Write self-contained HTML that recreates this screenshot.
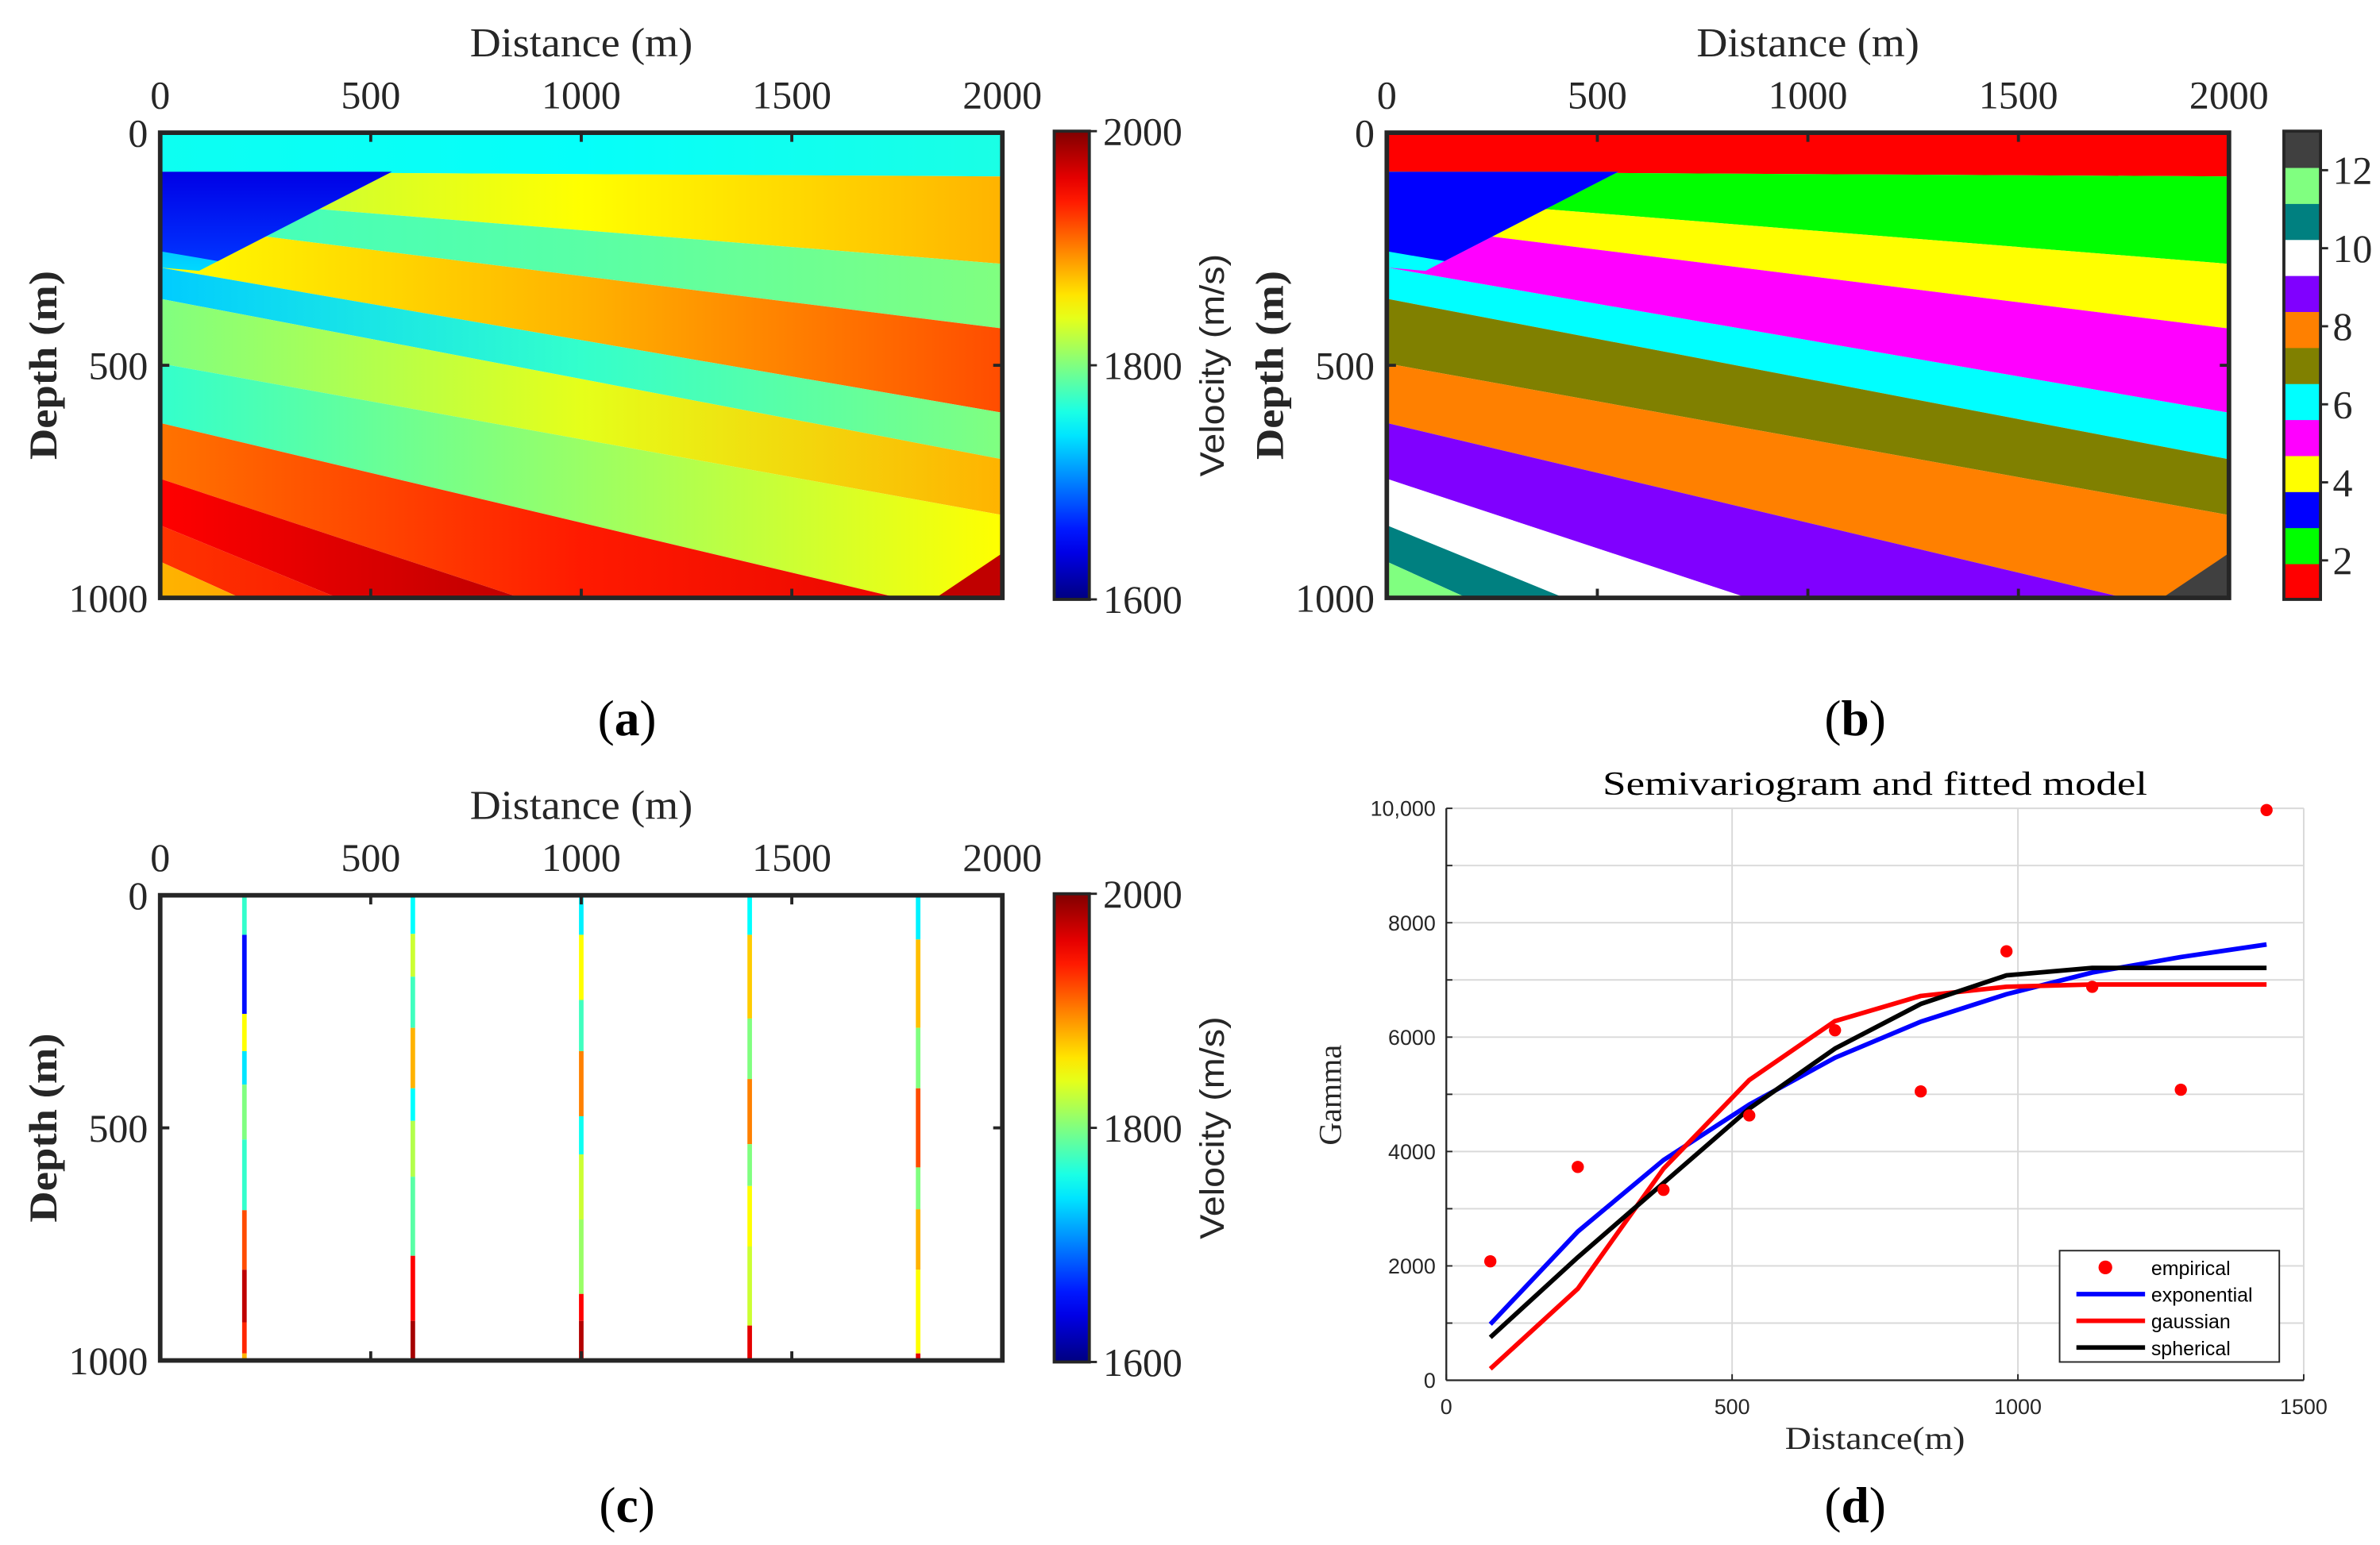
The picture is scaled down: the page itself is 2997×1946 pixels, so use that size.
<!DOCTYPE html>
<html><head><meta charset="utf-8"><style>
html,body{margin:0;padding:0;background:#fff;}
svg{display:block;}
</style></head><body>
<svg id="fig" xmlns="http://www.w3.org/2000/svg" width="2997" height="1946" viewBox="0 0 1560 1013" preserveAspectRatio="none">
<defs id="defs"></defs>
<rect x="0" y="0" width="1560" height="1013" fill="#fff"/>
</svg>
<script>
// ---------- DATA ----------
const distTicks = [0, 500, 1000, 1500, 2000];
const depthTicks = [0, 500, 1000];
const layerBoundLeft = [0, 84, 137, 195, 290, 357, 496, 624, 744, 844, 922];
const layerBoundRight = [0, 94, 282, 421, 602, 702, 822, 1053, 1342, 1584, 1742];
const layerClassColors = ['#ff0000','#00ff00','#ffff00','#ff00ff','#00ffff','#808000','#ff8000','#8000ff','#ffffff','#008080','#80ff80'];
const layerVelLeft  = [1755, 1820, 1775, 1850, 1730, 1800, 1770, 1905, 1950, 1930, 1880];
const layerVelMid   = [1752, 1850, 1785, 1880, 1770, 1840, 1810, 1940, 1980, 1955, 1900];
const layerVelRight = [1760, 1880, 1800, 1920, 1800, 1880, 1850, 1960, 1990, 1975, 1935];
const classTicks = [2, 4, 6, 8, 10, 12];
const classColors = ['#ff0000','#00ff00','#0000ff','#ffff00','#ff00ff','#00ffff','#808000','#ff8000','#8000ff','#ffffff','#008080','#80ff80','#404040'];
const velTicks = [1600, 1800, 2000];
const wellX = [200, 600, 1000, 1400, 1800];
const wellBreaks = [
  [0,85,255,335,407,525,677,805,918,985,1000],
  [0,83,175,285,415,485,605,775,915,1000],
  [0,85,225,335,475,557,697,857,915,1000],
  [0,85,265,395,535,625,755,925,1000],
  [0,95,285,415,585,675,805,985,1000]
];
const wellVel = [
  [1770,1655,1850,1740,1800,1770,1920,1975,1935,1880],
  [1750,1830,1775,1880,1750,1820,1785,1950,1985],
  [1745,1850,1775,1900,1755,1830,1810,1950,1980],
  [1750,1870,1800,1900,1800,1850,1830,1960],
  [1745,1875,1800,1920,1800,1880,1850,1960]
];
const lagDist = [77, 230, 380, 530, 680, 830, 980, 1130, 1285, 1435];
const empirical = [2080, 3730, 3330, 4630, 6120, 5050, 7500, 6880, 5080, 9970];
const expModel = [980, 2600, 3850, 4820, 5640, 6270, 6750, 7130, 7400, 7620];
const gaussModel = [200, 1600, 3700, 5250, 6280, 6720, 6880, 6920, 6920, 6920];
const sphModel = [750, 2150, 3450, 4750, 5800, 6580, 7080, 7210, 7210, 7210];
const gammaTicks = [0, 2000, 4000, 6000, 8000, 10000];
const gammaTickLabels = ['0','2000','4000','6000','8000','10,000'];
const lagTicks = [0, 500, 1000, 1500];

// ---------- HELPERS ----------
const NS = 'http://www.w3.org/2000/svg';
const svg = document.getElementById('fig');
const defs = document.getElementById('defs');
function mk(tag, attrs, parent) {
  const e = document.createElementNS(NS, tag);
  for (const k in attrs) e.setAttribute(k, attrs[k]);
  (parent || svg).appendChild(e);
  return e;
}
function txt(str, attrs, parent) { const t = mk('text', attrs, parent); t.textContent = str; return t; }
function jet(v, lo, hi) {
  let t = Math.max(0, Math.min(1, (v - lo) / (hi - lo)));
  const f = (a) => Math.max(0, Math.min(1, a));
  const r = f(Math.min(4*t - 1.5, -4*t + 4.5));
  const g = f(Math.min(4*t - 0.5, -4*t + 3.5));
  const b = f(Math.min(4*t + 0.5, -4*t + 2.5));
  return 'rgb(' + Math.round(r*255) + ',' + Math.round(g*255) + ',' + Math.round(b*255) + ')';
}
const SERIF = '"Liberation Serif", serif';
const SANS = '"Liberation Sans", sans-serif';
const INK = '#262626';

const jg = mk('linearGradient', {id:'jetbar', x1:'0', y1:'1', x2:'0', y2:'0'}, defs);
for (let i = 0; i <= 20; i++) mk('stop', {offset: i/20, 'stop-color': jet(1600 + i*20, 1600, 2000)}, jg);

function heatPanel(px0, px1, py0, py1, mode, name) {
  const g = mk('g', {});
  
  
  const sx = d => px0 + (d / 2000) * (px1 - px0);
  const sy = z => py0 + (z / 1000) * (py1 - py0);
  const cid = 'clip-' + name;
  const cp = mk('clipPath', {id: cid}, defs);
  mk('rect', {x: px0, y: py0, width: px1 - px0, height: py1 - py0}, cp);
  const cg = mk('g', {'clip-path': 'url(#' + cid + ')'}, g);
  for (let i = 0; i < layerBoundLeft.length; i++) {
    const tl = layerBoundLeft[i], tr = layerBoundRight[i];
    const bl = i + 1 < layerBoundLeft.length ? layerBoundLeft[i+1] : 3000;
    const br = i + 1 < layerBoundRight.length ? layerBoundRight[i+1] : 3000;
    let fill;
    if (mode === 'class') fill = layerClassColors[i];
    else {
      const gid = name + '-lg' + i;
      const lg = mk('linearGradient', {id: gid, gradientUnits: 'userSpaceOnUse', x1: px0, y1: 0, x2: px1, y2: 0}, defs);
      mk('stop', {offset: 0, 'stop-color': jet(layerVelLeft[i], 1600, 2000)}, lg);
      mk('stop', {offset: 0.5, 'stop-color': jet(layerVelMid[i], 1600, 2000)}, lg);
      mk('stop', {offset: 1, 'stop-color': jet(layerVelRight[i], 1600, 2000)}, lg);
      fill = 'url(#' + gid + ')';
    }
    const p = mk('polygon', {points: [sx(0)+','+sy(tl), sx(2000)+','+sy(tr), sx(2000)+','+sy(br), sx(0)+','+sy(bl)].join(' '), fill: fill}, cg);
    
    
  }
  const wedgeOuter = [[0,84],[550,84],[92,297],[0,290]];
  const wedgeInner = [[0,84],[550,84],[137,276],[0,255]];
  let fo, fi;
  if (mode === 'class') { fo = '#00ffff'; fi = '#0000ff'; }
  else {
    const gid = name + '-wg';
    const lg = mk('linearGradient', {id: gid, gradientUnits: 'userSpaceOnUse', x1: 0, y1: sy(84), x2: 0, y2: sy(297)}, defs);
    mk('stop', {offset: 0, 'stop-color': jet(1700, 1600, 2000)}, lg);
    mk('stop', {offset: 1, 'stop-color': jet(1735, 1600, 2000)}, lg);
    fo = 'url(#' + gid + ')';
    const gid2 = name + '-wb';
    const lg2 = mk('linearGradient', {id: gid2, gradientUnits: 'userSpaceOnUse', x1: 0, y1: sy(84), x2: 0, y2: sy(276)}, defs);
    mk('stop', {offset: 0, 'stop-color': jet(1640, 1600, 2000)}, lg2);
    mk('stop', {offset: 1, 'stop-color': jet(1670, 1600, 2000)}, lg2);
    fi = 'url(#' + gid2 + ')';
  }
  const w1 = mk('polygon', {points: wedgeOuter.map(q => sx(q[0]) + ',' + sy(q[1])).join(' '), fill: fo}, cg);
  
  
  const w2 = mk('polygon', {points: wedgeInner.map(q => sx(q[0]) + ',' + sy(q[1])).join(' '), fill: fi}, cg);
  
  
  const corner = [[1842,1000],[2000,1000],[2000,904]];
  const c = mk('polygon', {points: corner.map(q => sx(q[0]) + ',' + sy(q[1])).join(' '), fill: mode === 'class' ? '#404040' : '#c00000'}, cg);
  
  
  return {sx, sy, g};
}

function mapAxes(px0, px1, py0, py1, sx, sy, tag) {
  const g = mk('g', {});
  
  
  mk('rect', {x: px0, y: py0, width: px1 - px0, height: py1 - py0, fill: 'none', stroke: INK, 'stroke-width': 3}, g);
  distTicks.forEach(d => {
    mk('line', {x1: sx(d), y1: py0, x2: sx(d), y2: py0 + 6, stroke: INK, 'stroke-width': 2}, g);
    mk('line', {x1: sx(d), y1: py1, x2: sx(d), y2: py1 - 6, stroke: INK, 'stroke-width': 2}, g);
    const t = txt(String(d), {x: sx(d), y: py0 - 16, 'font-family': SERIF, 'font-size': 26, fill: INK, 'text-anchor': 'middle'}, g);
    
    
  });
  depthTicks.forEach(z => {
    mk('line', {x1: px0, y1: sy(z), x2: px0 + 6, y2: sy(z), stroke: INK, 'stroke-width': 2}, g);
    mk('line', {x1: px1, y1: sy(z), x2: px1 - 6, y2: sy(z), stroke: INK, 'stroke-width': 2}, g);
    const t = txt(String(z), {x: px0 - 8, y: sy(z) + 9, 'font-family': SERIF, 'font-size': 26, fill: INK, 'text-anchor': 'end'}, g);
    
    
  });
  const xt = txt('Distance (m)', {x: (px0 + px1) / 2, y: py0 - 50, 'font-family': SERIF, 'font-size': 27, fill: INK, 'text-anchor': 'middle', textLength: 146, lengthAdjust: 'spacingAndGlyphs'}, g);
  
  
  const yc = (py0 + py1) / 2;
  const yt = txt('Depth (m)', {x: 0, y: 0, transform: 'translate(' + (px0 - 68) + ',' + yc + ') rotate(-90)', 'font-family': SERIF, 'font-weight': 'bold', 'font-size': 26, fill: INK, 'text-anchor': 'middle', textLength: 124, lengthAdjust: 'spacingAndGlyphs'}, g);
  
  
}

function jetColorbar(cx0, cx1, cy0, cy1, tag) {
  const g = mk('g', {});
  
  
  mk('rect', {x: cx0, y: cy0, width: cx1 - cx0, height: cy1 - cy0, fill: 'url(#jetbar)', stroke: INK, 'stroke-width': 2}, g);
  velTicks.forEach(v => {
    const y = cy1 - (v - 1600) / 400 * (cy1 - cy0);
    mk('line', {x1: cx1, y1: y, x2: cx1 + 5, y2: y, stroke: INK, 'stroke-width': 1.5}, g);
    const t = txt(String(v), {x: cx1 + 9, y: y + 9, 'font-family': SERIF, 'font-size': 26, fill: INK}, g);
    
    
  });
  const lt = txt('Velocity (m/s)', {x: 0, y: 0, transform: 'translate(' + (cx1 + 88) + ',' + ((cy0 + cy1) / 2) + ') rotate(-90)', 'font-family': SANS, 'font-size': 22, fill: INK, 'text-anchor': 'middle', textLength: 146, lengthAdjust: 'spacingAndGlyphs'}, g);
  
  
}

function caption(letter, x, y) {
  const t = mk('text', {x: x, y: y, 'font-family': SERIF, 'font-size': 33, fill: '#000', 'text-anchor': 'middle'});
  
  
  const a = document.createElementNS(NS, 'tspan'); a.textContent = '('; t.appendChild(a);
  const b = document.createElementNS(NS, 'tspan'); b.setAttribute('font-weight', 'bold'); b.textContent = letter; t.appendChild(b);
  const c = document.createElementNS(NS, 'tspan'); c.textContent = ')'; t.appendChild(c);
}

// ---------- PANEL A ----------
{
  const P = heatPanel(105, 657, 87, 392, 'vel', 'panel-a-velocity-map');
  mapAxes(105, 657, 87, 392, P.sx, P.sy, 'panel-a');
  jetColorbar(691, 714, 86, 393, 'panel-a');
  caption('a', 411, 482);
}
// ---------- PANEL B ----------
{
  const P = heatPanel(909, 1461, 87, 392, 'class', 'panel-b-class-map');
  mapAxes(909, 1461, 87, 392, P.sx, P.sy, 'panel-b');
  const cx0 = 1497, cx1 = 1521, cy0 = 86, cy1 = 393;
  const g = mk('g', {});
  
  
  const n = classColors.length;
  const h = (cy1 - cy0) / n;
  classColors.forEach((col, i) => {
    const r = mk('rect', {x: cx0, y: cy1 - (i + 1) * h, width: cx1 - cx0, height: h + 0.5, fill: col}, g);
    
    
  });
  mk('rect', {x: cx0, y: cy0, width: cx1 - cx0, height: cy1 - cy0, fill: 'none', stroke: INK, 'stroke-width': 2}, g);
  const cy = v => cy1 - (v - 1) / 12 * (cy1 - cy0);
  classTicks.forEach(v => {
    mk('line', {x1: cx1, y1: cy(v), x2: cx1 + 5, y2: cy(v), stroke: INK, 'stroke-width': 1.5}, g);
    const t = txt(String(v), {x: cx1 + 8, y: cy(v) + 9, 'font-family': SERIF, 'font-size': 26, fill: INK}, g);
    
    
  });
  caption('b', 1216, 482);
}
// ---------- PANEL C ----------
{
  const px0 = 105, px1 = 657, py0 = 587, py1 = 892;
  const sx = d => px0 + (d / 2000) * (px1 - px0);
  const sy = z => py0 + (z / 1000) * (py1 - py0);
  const g = mk('g', {});
  
  
  wellX.forEach((wx, w) => {
    const br = wellBreaks[w];
    for (let k = 0; k < br.length - 1; k++) {
      const r = mk('rect', {x: sx(wx) - 1.5, y: sy(br[k]), width: 3, height: sy(br[k+1]) - sy(br[k]), fill: jet(wellVel[w][k], 1600, 2000)}, g);
      
      
    }
  });
  mapAxes(px0, px1, py0, py1, sx, sy, 'panel-c');
  jetColorbar(691, 714, 586, 893, 'panel-c');
  caption('c', 411, 998);
}
// ---------- PANEL D ----------
{
  const px0 = 948, px1 = 1510, py0 = 530, py1 = 905;
  const sx = d => px0 + d / 1500 * (px1 - px0);
  const sy = v => py1 - v / 10000 * (py1 - py0);
  const g = mk('g', {});
  
  
  for (let v = 1000; v <= 10000; v += 1000)
    mk('line', {x1: px0, y1: sy(v), x2: px1, y2: sy(v), stroke: '#d9d9d9', 'stroke-width': 1}, g);
  lagTicks.slice(1).forEach(d => mk('line', {x1: sx(d), y1: py0, x2: sx(d), y2: py1, stroke: '#d9d9d9', 'stroke-width': 1}, g));
  mk('line', {x1: px0, y1: py0, x2: px0, y2: py1, stroke: INK, 'stroke-width': 1.2}, g);
  mk('line', {x1: px0, y1: py1, x2: px1, y2: py1, stroke: INK, 'stroke-width': 1.2}, g);
  for (let v = 0; v <= 10000; v += 1000)
    mk('line', {x1: px0, y1: sy(v), x2: px0 + 4, y2: sy(v), stroke: INK, 'stroke-width': 1}, g);
  lagTicks.forEach(d => mk('line', {x1: sx(d), y1: py1, x2: sx(d), y2: py1 - 4, stroke: INK, 'stroke-width': 1}, g));
  gammaTicks.forEach((v, i) => {
    const t = txt(gammaTickLabels[i], {x: px0 - 7, y: sy(v) + 5, 'font-family': SANS, 'font-size': 14, fill: INK, 'text-anchor': 'end'}, g);
    
    
  });
  lagTicks.forEach(d => {
    const t = txt(String(d), {x: sx(d), y: py1 + 22, 'font-family': SANS, 'font-size': 14, fill: INK, 'text-anchor': 'middle'}, g);
    
    
  });
  const tt = txt('Semivariogram and fitted model', {x: (px0 + px1) / 2, y: 521, 'font-family': SERIF, 'font-size': 22, fill: '#000', 'text-anchor': 'middle', textLength: 357, lengthAdjust: 'spacingAndGlyphs'}, g);
  
  
  const xt = txt('Distance(m)', {x: 1229, y: 950, 'font-family': SERIF, 'font-size': 21, fill: INK, 'text-anchor': 'middle', textLength: 118, lengthAdjust: 'spacingAndGlyphs'}, g);
  
  
  const yt = txt('Gamma', {x: 0, y: 0, transform: 'translate(879,718) rotate(-90)', 'font-family': SERIF, 'font-size': 21, fill: INK, 'text-anchor': 'middle', textLength: 66, lengthAdjust: 'spacingAndGlyphs'}, g);
  
  
  const series = [[expModel, '#0000ff', 'exponential-line'], [gaussModel, '#ff0000', 'gaussian-line'], [sphModel, '#000000', 'spherical-line']];
  series.forEach(s => {
    const pl = mk('polyline', {points: lagDist.map((d, i) => sx(d) + ',' + sy(s[0][i])).join(' '), fill: 'none', stroke: s[1], 'stroke-width': 3, 'stroke-linejoin': 'round'}, g);
    
    
  });
  lagDist.forEach((d, i) => {
    const c = mk('circle', {cx: sx(d), cy: sy(empirical[i]), r: 4, fill: '#ff0000'}, g);
    
    
  });
  const lg = mk('g', {});
  
  
  mk('rect', {x: 1350, y: 820, width: 144, height: 73, fill: '#fff', stroke: INK, 'stroke-width': 1}, lg);
  const entries = [['empirical', 'dot', '#ff0000'], ['exponential', 'line', '#0000ff'], ['gaussian', 'line', '#ff0000'], ['spherical', 'line', '#000000']];
  entries.forEach((e, i) => {
    const y = 831 + i * 17.5;
    const eg = mk('g', {}, lg);
    
    
    if (e[1] === 'dot') mk('circle', {cx: 1380, cy: y, r: 4.5, fill: e[2]}, eg);
    else mk('line', {x1: 1361, y1: y, x2: 1406, y2: y, stroke: e[2], 'stroke-width': 3}, eg);
    txt(e[0], {x: 1410, y: y + 5, 'font-family': SANS, 'font-size': 13, fill: '#000'}, eg);
  });
  caption('d', 1216, 998);
}
</script>
</body></html>
